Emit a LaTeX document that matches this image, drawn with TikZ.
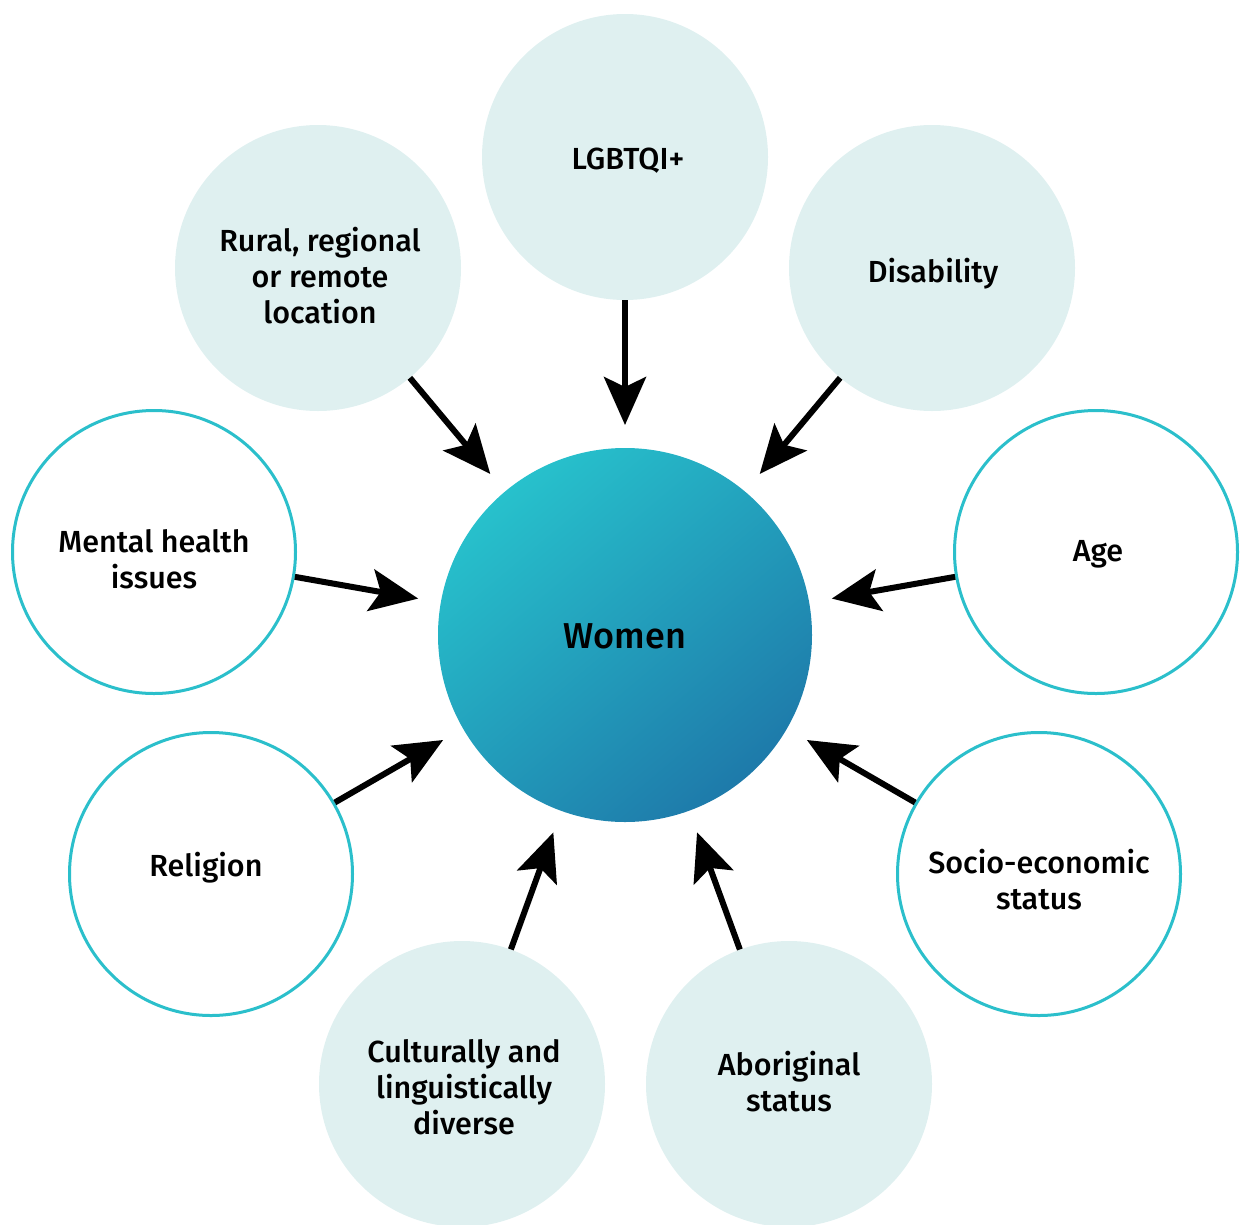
\documentclass[tikz,border=0pt]{standalone}
\usepackage{fontspec}
\setmainfont{Fira Sans}[UprightFont={* Medium}]
\usetikzlibrary{arrows.meta,calc}
\definecolor{lightfill}{RGB}{223,240,240}
\definecolor{tealline}{RGB}{43,191,203}
\definecolor{gradA}{RGB}{39,193,204}
\definecolor{gradB}{RGB}{30,122,170}
\begin{document}
\begin{tikzpicture}[x=1pt,y=1pt,
  lbl/.style={font=\fontsize{30.5}{36}\selectfont, align=center, text=black, inner sep=0pt},
  softc/.style={circle, fill=lightfill, minimum size=286pt, inner sep=0pt},
  ringc/.style={circle, draw=tealline, line width=3pt, fill=white, minimum size=283pt, inner sep=0pt},
  arr/.style={line width=6pt, -{Stealth[length=48pt,width=42pt,inset=10pt]}}
]
\useasboundingbox (0,0) rectangle (1242,-1224);
\node[circle, minimum size=374pt, inner sep=0pt, shading=axis, top color=gradA, bottom color=gradB, shading angle=40] (women) at (625,-635) {};
\node[softc] (lgbt) at (625,-157) {};
\node[softc] (dis) at (932,-268) {};
\node[softc] (rural) at (318,-268) {};
\node[ringc] (age) at (1096,-552) {};
\node[ringc] (mental) at (154,-552) {};
\node[ringc] (socio) at (1039,-874) {};
\node[ringc] (relig) at (211,-874) {};
\node[softc] (cald) at (462,-1084) {};
\node[softc] (abor) at (789,-1084) {};
% labels
\node[lbl, font=\fontsize{36}{42}\selectfont] (women-t) at ($(women)+(0,-1)$) {Women};
\node[lbl] (lgbt-t) at ($(lgbt)+(3,-4)$) {LGBTQI+};
\node[lbl] (dis-t) at ($(dis)+(1,-6)$) {Disability};
\node[lbl] (rural-t) at ($(rural)+(2,-8)$) {Rural, regional\\or remote\\location};
\node[lbl] (age-t) at ($(age)+(2,-2)$) {Age};
\node[lbl] (mental-t) at ($(mental)+(0,-7)$) {Mental health\\issues};
\node[lbl] (socio-t) at ($(socio)+(0,-6)$) {Socio-economic\\status};
\node[lbl] (relig-t) at ($(relig)+(-5,6)$) {Religion};
\node[lbl] (cald-t) at ($(cald)+(2,-3)$) {Culturally and\\linguistically\\diverse};
\node[lbl] (abor-t) at ($(abor)+(0,2)$) {Aboriginal\\status};
\foreach \n in {lgbt,dis,rural,age,mental,socio,relig,cald,abor}{
  \draw[arr] (\n) -- ($(women)!210pt!(\n)$);
}
\end{tikzpicture}
\end{document}
